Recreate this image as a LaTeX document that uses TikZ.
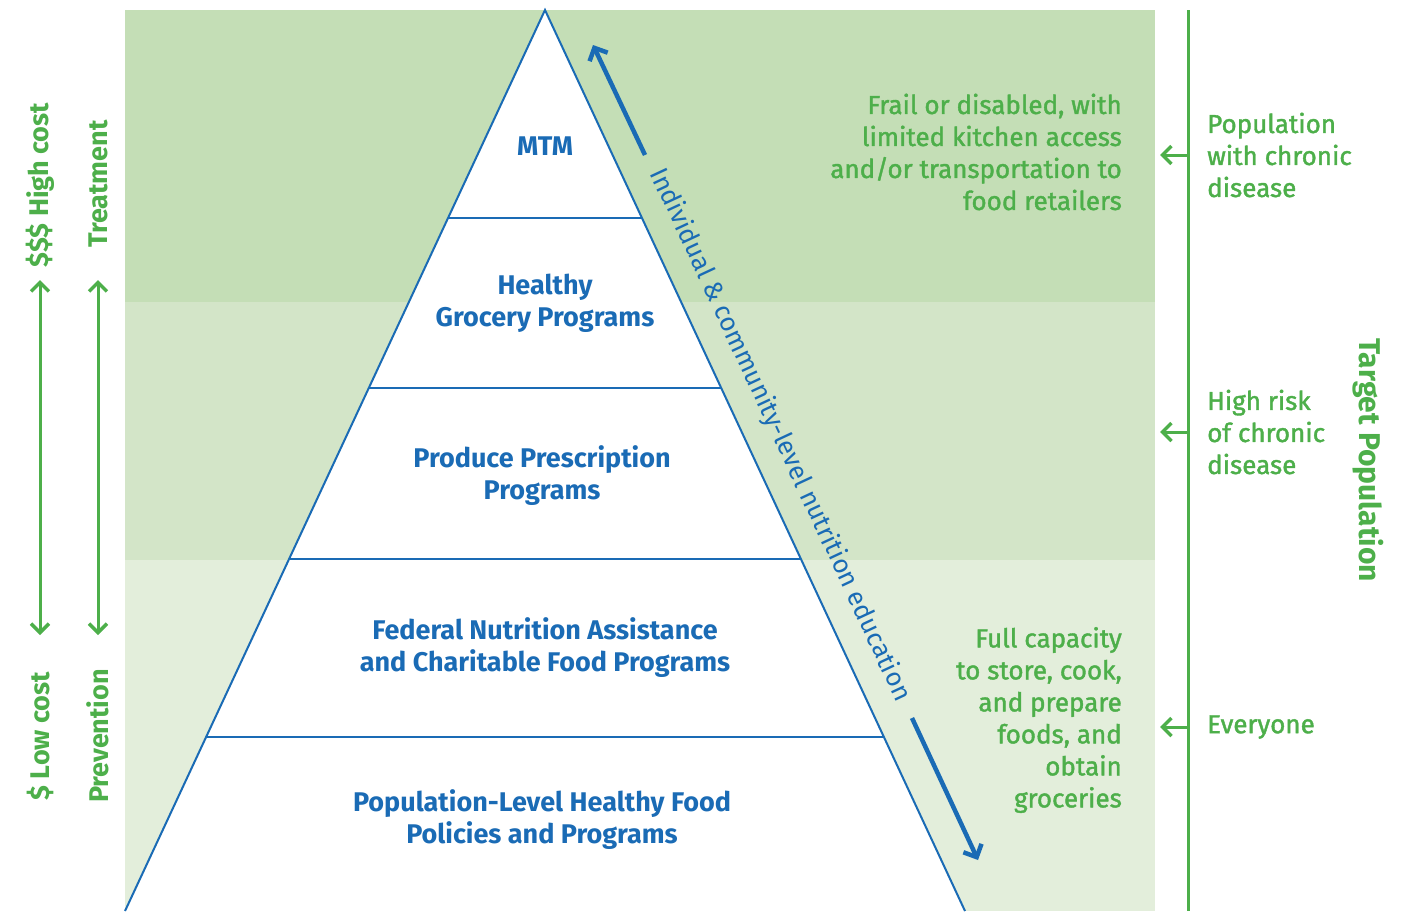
\documentclass[tikz,border=0pt]{standalone}
\usepackage{fontspec}
\setmainfont{Fira Sans}
\newfontfamily\medfont[FakeBold=1.5]{Fira Sans}
\usetikzlibrary{arrows.meta,calc}
\definecolor{bandA}{HTML}{C4DEB6}
\definecolor{bandB}{HTML}{D3E5C8}
\definecolor{bandC}{HTML}{E3EEDB}
\definecolor{gtext}{HTML}{4DAF4A}
\definecolor{btext}{HTML}{1A6BB5}
\tikzset{
  lbl/.style={text=btext, font=\fontsize{27}{32}\selectfont\bfseries, align=center, inner sep=0pt},
  gtxt/.style={text=gtext, font=\fontsize{26}{32}\selectfont\medfont, inner sep=0pt},
  vtxt/.style={text=gtext, font=\fontsize{27}{32}\selectfont\bfseries, inner sep=0pt},
  gtip/.tip={Straight Barb[length=9pt,width=18pt,line width=3.5pt]},
  garrow/.style={draw=gtext, line width=3pt, -gtip},
  gdarrow/.style={draw=gtext, line width=3pt, gtip-gtip},
  barrow/.style={draw=btext, line width=4.5pt, -{Straight Barb[length=10pt,width=20pt]}},
  tier/.style={draw=btext, line width=2pt}
}
\begin{document}
\begin{tikzpicture}[x=1pt,y=-1pt]
\useasboundingbox (0,0) rectangle (1404,911);
% bands
\fill[bandA] (125,10) rectangle (1155,302);
\fill[bandB] (125,302) rectangle (1155,560);
\fill[bandC] (125,560) rectangle (1155,911);
% pyramid
\coordinate (apex) at (545,10);
\coordinate (bl) at (125,911);
\coordinate (br) at (965,911);
\filldraw[fill=white, tier, line join=miter] (bl) -- (apex) -- (br);
\foreach \yy in {218,388,559,737}{
  \draw[tier] ($(apex)!{(\yy-10)/901}!(bl)$) -- ($(apex)!{(\yy-10)/901}!(br)$);
}
% labels
\node[lbl] (mtm) at (545,146) {MTM};
\node[lbl] (hgp) at (545,303) {Healthy\\Grocery Programs};
\node[lbl] (ppp) at (542,476) {Produce Prescription\\Programs};
\node[lbl] (fna) at (545,648) {Federal Nutrition Assistance\\and Charitable Food Programs};
\node[lbl] (plh) at (542,820) {Population-Level Healthy Food\\Policies and Programs};
% diagonal education text
\node[text=btext, font=\fontsize{26}{32}\selectfont, rotate=-65, inner sep=0pt] (edu) at (780,435) {Individual \& community-level nutrition education};
\coordinate (eduA1) at (645,155);
\coordinate (eduA2) at (593,45);
\coordinate (eduB1) at (912,718);
\coordinate (eduB2) at (978,860);
\draw[barrow] (eduA1) -- (eduA2);
\draw[barrow] (eduB1) -- (eduB2);
% right descriptions
\node[gtxt, align=right, anchor=east] (frail) at (1122,152) {Frail or disabled, with\\limited kitchen access\\and/or transportation to\\food retailers};
\node[gtxt, align=right, anchor=east] (full) at (1122,720) {Full capacity\\to store, cook,\\and prepare\\foods, and\\obtain\\groceries};
% target population axis
\coordinate (axT) at (1188,10);
\coordinate (axB) at (1188,911);
\draw[draw=gtext, line width=3pt] (axT) -- (axB);
\node[gtxt, align=left, anchor=west] (pop1) at (1207,155) {Population\\with chronic\\disease};
\node[gtxt, align=left, anchor=west] (pop2) at (1207,432) {High risk\\of chronic\\disease};
\node[gtxt, align=left, anchor=west] (pop3) at (1207,727) {Everyone};
\foreach \yy/\nm in {155/1,432/2,727/3}{
  \coordinate (s\nm) at (1188,\yy);
  \coordinate (t\nm) at (1160,\yy);
  \draw[garrow] (s\nm) -- (t\nm);
}
\node[vtxt, rotate=-90, font=\fontsize{30}{32}\selectfont\bfseries] (tp) at (1368,460) {Target Population};
% left axes
\node[vtxt, rotate=90] (hc) at (40,185) {\$\$\$ High cost};
\node[vtxt, rotate=90] (tr) at (98,184) {Treatment};
\node[vtxt, rotate=90] (lc) at (40,736) {\$ Low cost};
\node[vtxt, rotate=90] (pv) at (98,736) {Prevention};
\coordinate (c1t) at (40,280);
\coordinate (c1b) at (40,635);
\coordinate (c2t) at (98,280);
\coordinate (c2b) at (98,635);
\draw[gdarrow] (c1t) -- (c1b);
\draw[gdarrow] (c2t) -- (c2b);
\end{tikzpicture}
\end{document}
